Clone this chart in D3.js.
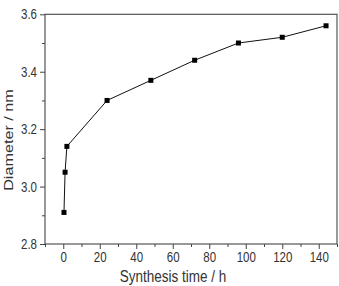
<!DOCTYPE html>
<html>
<head>
<meta charset="utf-8">
<script src="https://cdn.jsdelivr.net/npm/d3@7"></script>
<style>
  body { margin: 0; background: #fff; }
  svg { display: block; }
  text { font-family: "Liberation Sans", Arial, sans-serif; fill: #333; }
</style>
</head>
<body>
<svg id="chart" width="339" height="286"></svg>
<script>
'use strict';

// synthesis time (h) vs. particle diameter (nm)
var timeHours = [0.4, 1, 2, 24, 48, 72, 96, 120, 144];
var diameterNm = [2.91, 3.05, 3.14, 3.30, 3.37, 3.44, 3.50, 3.52, 3.56];
var xTicks = [0, 20, 40, 60, 80, 100, 120, 140];
var yTicks = [2.8, 3.0, 3.2, 3.4, 3.6];

var svg = d3.select("#chart");
var plotLeft = 45, plotRight = 337, plotTop = 14.3, plotBottom = 244;
var stretch = 1.2; // the picture is a little taller than wide

var x = d3.scaleLinear().domain([-10, 150]).range([plotLeft, plotRight]);
var y = d3.scaleLinear().domain([2.8, 3.6]).range([plotBottom, plotTop]);

// frame
svg.append("rect")
    .attr("x", plotLeft).attr("y", plotTop)
    .attr("width", plotRight - plotLeft).attr("height", plotBottom - plotTop)
    .attr("fill", "none").attr("stroke", "#555").attr("stroke-width", 1.2);

// minor ticks
var xMinor = d3.range(-10, 151, 10).filter(function(d) { return d % 20 !== 0; });
var yMinor = [2.9, 3.1, 3.3, 3.5];

svg.append("g").attr("transform", "translate(0," + plotBottom + ")")
    .call(d3.axisBottom(x).tickValues(xMinor).tickSize(3).tickFormat(""))
    .call(function(g) { g.select(".domain").remove(); g.selectAll("line").attr("stroke", "#444"); });
svg.append("g").attr("transform", "translate(" + plotLeft + ",0)")
    .call(d3.axisLeft(y).tickValues(yMinor).tickSize(3).tickFormat(""))
    .call(function(g) { g.select(".domain").remove(); g.selectAll("line").attr("stroke", "#444"); });

// major ticks
var gx = svg.append("g").attr("transform", "translate(0," + plotBottom + ")")
    .call(d3.axisBottom(x).tickValues(xTicks).tickSize(5).tickPadding(4));
gx.select(".domain").remove();
gx.selectAll("line").attr("stroke", "#444");
gx.selectAll("text")
    .attr("font-size", 11.5).attr("dy", null).attr("y", 0)
    .attr("transform", "translate(0,18) scale(1," + stretch + ")")
    .style("fill", "#333");

var gy = svg.append("g").attr("transform", "translate(" + plotLeft + ",0)")
    .call(d3.axisLeft(y).tickValues(yTicks).tickSize(5).tickFormat(d3.format(".1f")));
gy.select(".domain").remove();
gy.selectAll("line").attr("stroke", "#444");
gy.selectAll("text")
    .attr("font-size", 11.5).attr("x", 0).attr("dy", null).attr("y", 0)
    .attr("transform", "translate(-8,4.5) scale(1," + stretch + ")")
    .style("fill", "#333");

// axis titles
svg.append("text")
    .attr("transform", "translate(173,282) scale(1," + stretch + ")")
    .attr("text-anchor", "middle").attr("font-size", 13.5)
    .text("Synthesis time / h");

svg.append("text")
    .attr("transform", "translate(12.5,140) scale(1," + stretch + ") rotate(-90)")
    .attr("text-anchor", "middle").attr("font-size", 13.5)
    .text("Diameter / nm");

// data line and markers
var points = timeHours.map(function(t, i) { return [t, diameterNm[i]]; });

svg.append("path")
    .datum(points)
    .attr("fill", "none").attr("stroke", "#111").attr("stroke-width", 1)
    .attr("d", d3.line().x(function(d) { return x(d[0]); }).y(function(d) { return y(d[1]); }));

svg.selectAll("rect.marker")
    .data(points)
    .enter().append("rect")
    .attr("class", "marker")
    .attr("x", function(d) { return x(d[0]) - 2.5; })
    .attr("y", function(d) { return y(d[1]) - 2.5; })
    .attr("width", 5).attr("height", 5)
    .attr("fill", "#000");
</script>
</body>
</html>
